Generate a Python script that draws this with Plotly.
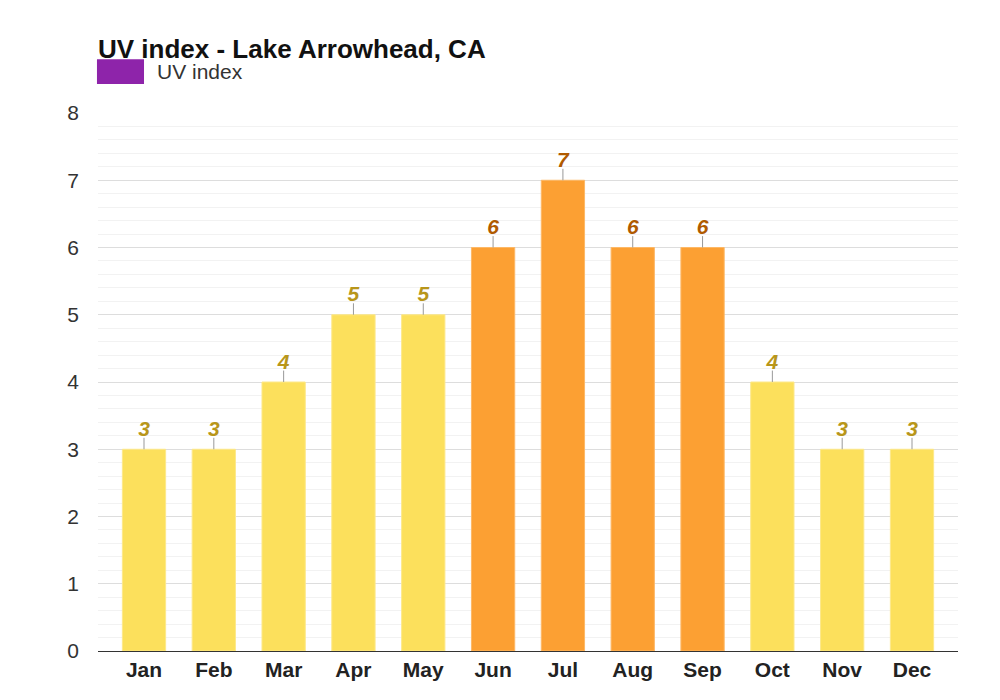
import plotly.graph_objects as go

months = ["Jan","Feb","Mar","Apr","May","Jun","Jul","Aug","Sep","Oct","Nov","Dec"]
uv = [3,3,4,5,5,6,7,6,6,4,3,3]

bar_colors = ["#FCA033" if v >= 6 else "#FCE05C" for v in uv]
bar_lines = ["#FDB866" if v >= 6 else "#FDE88A" for v in uv]
label_colors = ["#B05A00" if v >= 6 else "#B8961A" for v in uv]

fig = go.Figure()
fig.add_trace(go.Bar(x=months, y=uv, name="UV index", width=0.62, showlegend=False,
                     marker=dict(color=bar_colors, line=dict(color=bar_lines, width=1)),
                     hoverinfo="skip"))
fig.add_trace(go.Scatter(x=months, y=uv, mode="markers", showlegend=False,
                         marker=dict(size=1, opacity=0),
                         error_y=dict(type="data", symmetric=False, array=[0.17]*len(uv),
                                      arrayminus=[0]*len(uv), color="#999999", thickness=1, width=0),
                         hoverinfo="skip"))
fig.add_trace(go.Scatter(x=months, y=[v + 0.12 for v in uv], mode="text", showlegend=False,
                         text=[f"<b><i>{v}</i></b>" for v in uv], textposition="top center",
                         textfont=dict(size=21, color=label_colors, family="Arial, Liberation Sans"),
                         hoverinfo="skip"))
# legend drawn manually
fig.add_shape(type="rect", xref="paper", yref="paper", x0=-0.0012, x1=0.0535, y0=1.054, y1=1.1,
              fillcolor="#8E24AA", line=dict(width=0))
fig.add_annotation(text="UV index", xref="paper", yref="paper", x=0.066, y=1.077,
                   xanchor="left", yanchor="middle", showarrow=False,
                   font=dict(size=21, color="#333"))
fig.update_layout(
    width=1000, height=700, plot_bgcolor="white", paper_bgcolor="white",
    font=dict(family="Arial, Liberation Sans", color="#333"),
    title=dict(text="<b>UV index - Lake Arrowhead, CA</b>", x=0.09, xanchor="left", y=0.955,
               font=dict(size=26, color="#111")),
    showlegend=False,
    margin=dict(l=90, r=50, t=105, b=57),
    xaxis=dict(tickfont=dict(size=21, color="#222", family="Arial, Liberation Sans"),
               showline=True, linecolor="#333", ticks="", tickprefix="<b>", ticksuffix="</b>"),
    yaxis=dict(range=[0, 8], dtick=1, tickfont=dict(size=21, color="#333"),
               gridcolor="#DDDDDD", zeroline=False, ticklabelstandoff=18,
               minor=dict(dtick=0.2, showgrid=True, gridcolor="#F2F2F2")),
)
fig.write_html("out.html")
